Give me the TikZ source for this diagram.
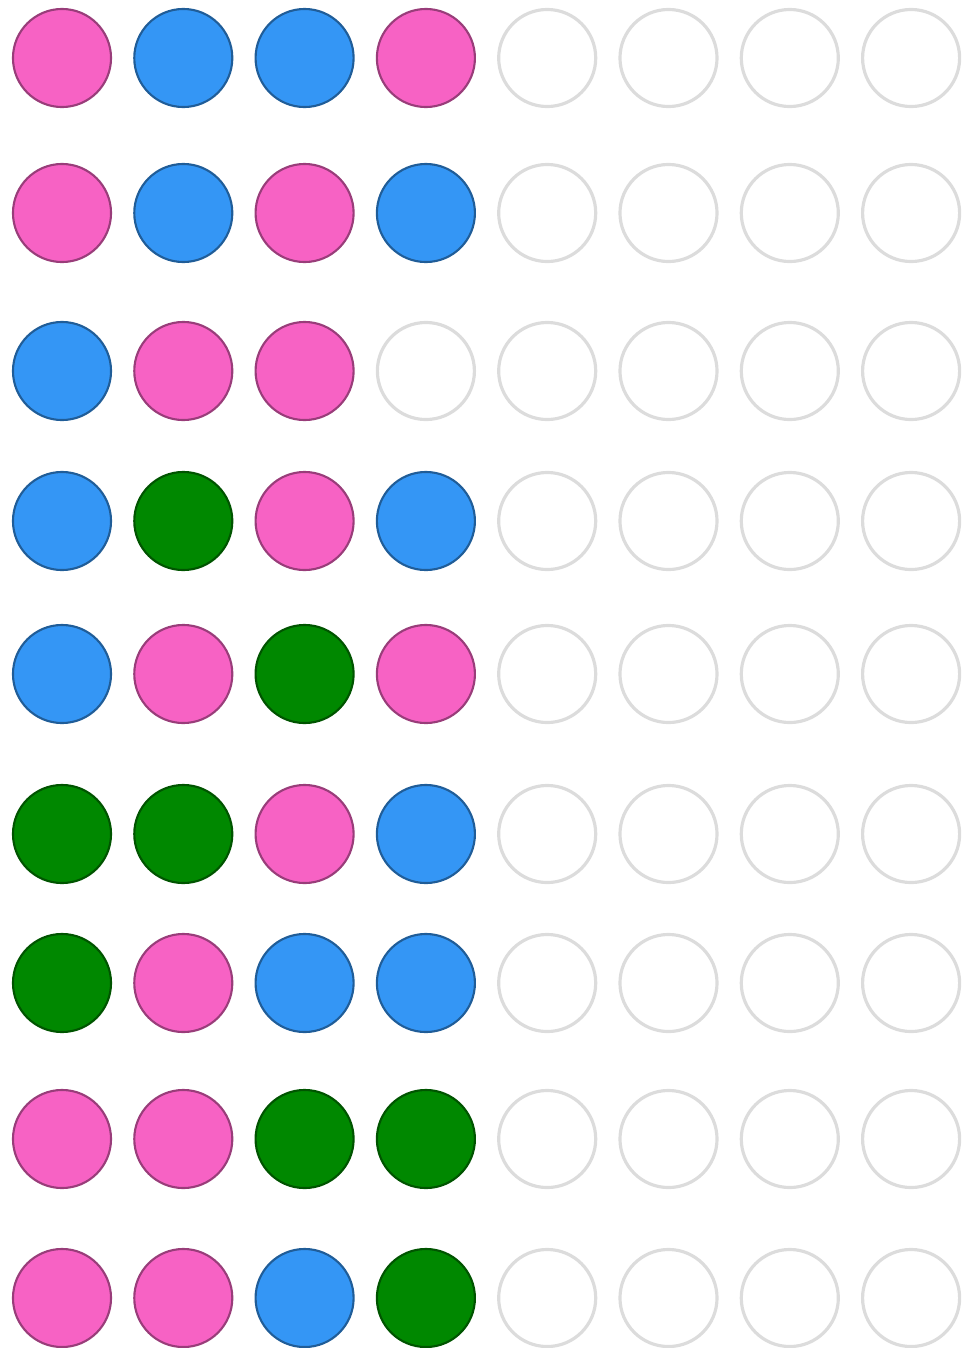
\documentclass[tikz,border=0pt]{standalone}
\usepackage{xcolor}
\usepackage{tikz}
\usetikzlibrary{positioning}
\definecolor{beadpink}{RGB}{247,98,196}
\definecolor{beadblue}{RGB}{52,150,245}
\definecolor{beadgreen}{RGB}{0,136,0}
\definecolor{slotgray}{RGB}{220,220,220}
\tikzset{
    bead/.style={circle, draw=#1!62!black, fill=#1, minimum size=0.98cm, inner sep=0pt, line width=0.6pt},
    pk/.style={bead=beadpink},
    bl/.style={bead=beadblue},
    gr/.style={bead=beadgreen},
    sl/.style={circle, draw=slotgray, fill=white, minimum size=0.97cm, inner sep=0pt, line width=0.9pt}
}

\begin{document}
\begin{tikzpicture}[x=0.01cm, y=-0.01cm]

\useasboundingbox (0,0) rectangle (963,1348);

\foreach \yy/\row [count=\r] in {
    58/{pk,bl,bl,pk,sl,sl,sl,sl},
    213/{pk,bl,pk,bl,sl,sl,sl,sl},
    371/{bl,pk,pk,sl,sl,sl,sl,sl},
    521/{bl,gr,pk,bl,sl,sl,sl,sl},
    674/{bl,pk,gr,pk,sl,sl,sl,sl},
    834/{gr,gr,pk,bl,sl,sl,sl,sl},
    983/{gr,pk,bl,bl,sl,sl,sl,sl},
    1139/{pk,pk,gr,gr,sl,sl,sl,sl},
    1298/{pk,pk,bl,gr,sl,sl,sl,sl}}{
    \foreach \kind [count=\c] in \row
        \node[\kind] (b-\r-\c) at ({62+121.3*(\c-1)},\yy) {};
}

\end{tikzpicture}
\end{document}
